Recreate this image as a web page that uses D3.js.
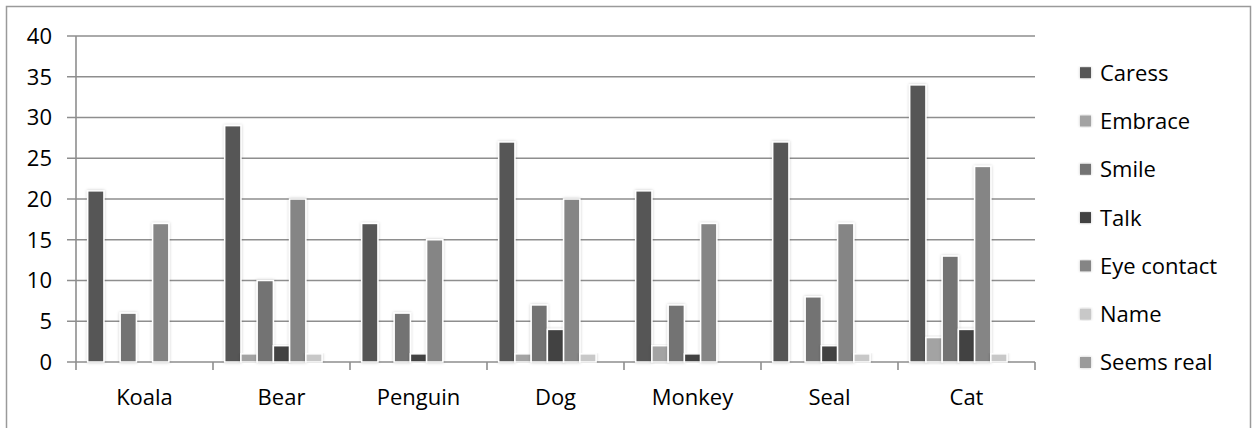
<!DOCTYPE html>
<html>
<head>
<meta charset="utf-8">
<script src="https://cdn.jsdelivr.net/npm/d3@7"></script>
<style>
  html, body { margin: 0; padding: 0; background: #fff; }
  svg { display: block; font-family: "Open Sans", sans-serif; }
</style>
</head>
<body>
<svg id="chart" width="1253" height="428"></svg>
<script>
// Animal categories along the x axis
const categories = ["Koala", "Bear", "Penguin", "Dog", "Monkey", "Seal", "Cat"];

// Behaviour series (legend order)
const seriesNames = ["Caress", "Embrace", "Smile", "Talk", "Eye contact", "Name", "Seems real"];

// Counts per series, one value per animal
const caress     = [21, 29, 17, 27, 21, 27, 34];
const embrace    = [0, 1, 0, 1, 2, 0, 3];
const smile      = [6, 10, 6, 7, 7, 8, 13];
const talk       = [0, 2, 1, 4, 1, 2, 4];
const eyeContact = [17, 20, 15, 20, 17, 17, 24];
const nameCalled = [0, 1, 0, 1, 0, 1, 1];
const seemsReal  = [0, 0, 0, 0, 0, 0, 0];

const yTicks = [0, 5, 10, 15, 20, 25, 30, 35, 40];

const seriesValues = [caress, embrace, smile, talk, eyeContact, nameCalled, seemsReal];
const seriesColors = ["#565656", "#a3a3a3", "#737373", "#424242", "#858585", "#c8c8c8", "#9b9b9b"];

const svg = d3.select("#chart");

// Shadow for bars and legend keys
const defs = svg.append("defs");
const f = defs.append("filter").attr("id", "shadow")
  .attr("x", "-50%").attr("y", "-10%").attr("width", "200%").attr("height", "120%");
f.append("feDropShadow").attr("dx", 0).attr("dy", 0).attr("stdDeviation", 1.6)
  .attr("flood-color", "#000").attr("flood-opacity", 0.22);

// Outer chart border
svg.append("rect")
  .attr("x", 6.5).attr("y", 6.5).attr("width", 1244).attr("height", 440)
  .attr("fill", "#fff").attr("stroke", "#9a9a9a").attr("stroke-width", 1.5);

const plot = { left: 76, right: 1035, top: 36, bottom: 362 };

const x0 = d3.scaleBand().domain(categories).range([plot.left, plot.right]).padding(0);
const groupPad = 11.7;
const x1 = d3.scaleBand().domain(seriesNames)
  .range([groupPad, x0.bandwidth() - groupPad]).padding(0);
const y = d3.scaleLinear().domain([0, 40]).range([plot.bottom, plot.top]);

// Horizontal gridlines with left tick marks
svg.append("g").selectAll("line").data(yTicks).join("line")
  .attr("x1", plot.left - 9).attr("x2", plot.right)
  .attr("y1", d => y(d)).attr("y2", d => y(d))
  .attr("stroke", "#8e8e8e").attr("stroke-width", 1.6);

// Y axis line
svg.append("line")
  .attr("x1", plot.left).attr("x2", plot.left)
  .attr("y1", plot.top).attr("y2", plot.bottom)
  .attr("stroke", "#8e8e8e").attr("stroke-width", 1.6);

// Y tick labels
svg.append("g").selectAll("text").data(yTicks).join("text")
  .attr("x", 52).attr("y", d => y(d))
  .attr("dy", "0.36em").attr("text-anchor", "end")
  .attr("font-size", 22).attr("fill", "#000")
  .text(d => d);

// Category boundary ticks below the baseline
const boundaries = categories.map(c => x0(c)).concat([plot.right]);
svg.append("g").selectAll("line").data(boundaries).join("line")
  .attr("x1", d => d).attr("x2", d => d)
  .attr("y1", plot.bottom).attr("y2", plot.bottom + 8)
  .attr("stroke", "#8e8e8e").attr("stroke-width", 1.6);

// Bars
const barData = [];
categories.forEach((c, ci) => {
  seriesNames.forEach((s, si) => {
    const v = seriesValues[si][ci];
    if (v > 0) barData.push({ c, s, v, color: seriesColors[si] });
  });
});

svg.append("g").selectAll("rect").data(barData).join("rect")
  .attr("x", d => x0(d.c) + x1(d.s))
  .attr("y", d => y(d.v))
  .attr("width", x1.bandwidth())
  .attr("height", d => y(0) - y(d.v))
  .attr("fill", d => d.color)
  .attr("stroke", "#fff").attr("stroke-width", 1.5)
  .attr("filter", "url(#shadow)");

// Category labels
svg.append("g").selectAll("text").data(categories).join("text")
  .attr("x", d => x0(d) + x0.bandwidth() / 2)
  .attr("y", 397).attr("dy", "0.36em")
  .attr("text-anchor", "middle").attr("font-size", 22).attr("fill", "#000")
  .text(d => d);

// Legend
const legend = svg.append("g");
const rows = legend.selectAll("g").data(seriesNames).join("g")
  .attr("transform", (d, i) => `translate(1080, ${72.7 + i * 48.3})`);
rows.append("rect")
  .attr("x", 0).attr("y", -5.5).attr("width", 11).attr("height", 11)
  .attr("fill", (d, i) => seriesColors[i])
  .attr("filter", "url(#shadow)");
rows.append("text")
  .attr("x", 20).attr("y", 0).attr("dy", "0.36em")
  .attr("font-size", 22).attr("fill", "#000")
  .text(d => d);
</script>
</body>
</html>
